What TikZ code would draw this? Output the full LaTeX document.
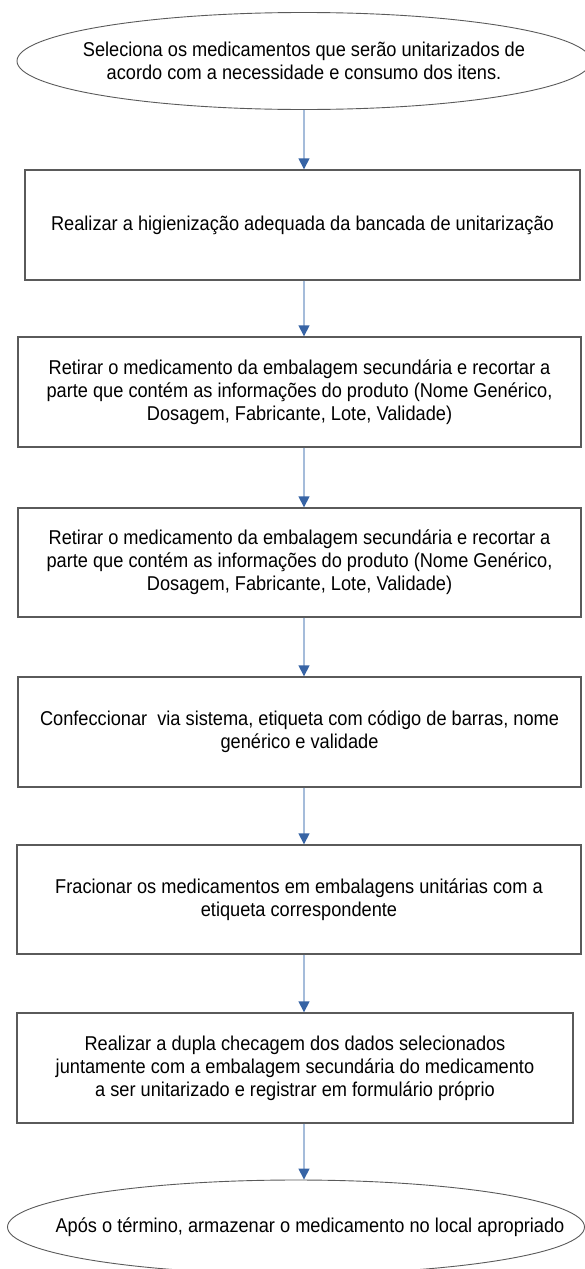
\documentclass[tikz,border=0pt]{standalone}
\usepackage{fontspec}
\setmainfont{Liberation Sans}[FakeStretch=0.91]
\usepackage{tikz}
\usetikzlibrary{arrows.meta,shapes.geometric}
\definecolor{boxline}{RGB}{90,90,90}
\definecolor{flowline}{RGB}{165,188,218}
\definecolor{flowhead}{RGB}{55,100,165}
\tikzset{
  stepbox/.style={rectangle,draw=boxline,line width=1.4pt,inner sep=0pt,
                  align=center,minimum height=110pt},
  term/.style={ellipse,draw=boxline,line width=0.9pt,inner sep=0pt},
  flow/.style={draw=flowline,line width=1.5pt,
               -{Triangle[length=11pt,width=11pt,color=flowhead]}},
}

\begin{document}
\begin{tikzpicture}[x=1pt,y=-1pt,font=\fontsize{20}{23}\selectfont]
  \useasboundingbox (0,0) rectangle (585,1269);
  \coordinate (axis) at (304,0);
  \node[term,minimum width=574pt,minimum height=97pt,
        label={[align=center]center:Seleciona os medicamentos que serão unitarizados de\\
                acordo com a necessidade e consumo dos itens.}] (sel) at (304,61) {};
  \node[stepbox,minimum width=555pt] (hig) at (302.5,225)
    {Realizar a higienização adequada da bancada de unitarização};
  \node[stepbox,minimum width=563pt] (ret1) at (299.5,392)
    {Retirar o medicamento da embalagem secundária e recortar a\\
     parte que contém as informações do produto (Nome Genérico,\\
     Dosagem, Fabricante, Lote, Validade)};
  \node[stepbox,minimum width=563pt,minimum height=109pt] (ret2) at (299.5,562.5)
    {Retirar o medicamento da embalagem secundária e recortar a\\
     parte que contém as informações do produto (Nome Genérico,\\
     Dosagem, Fabricante, Lote, Validade)};
  \node[stepbox,minimum width=563pt] (etq) at (299.5,732)
    {Confeccionar~ via sistema, etiqueta com código de barras, nome\\
     genérico e validade};
  \node[stepbox,minimum width=564pt,minimum height=109pt] (fra) at (299,899.5)
    {Fracionar os medicamentos em embalagens unitárias com a\\
     etiqueta correspondente};
  \node[stepbox,minimum width=556pt] (chk) at (295,1068)
    {Realizar a dupla checagem dos dados selecionados\\
     juntamente com a embalagem secundária do medicamento\\
     a ser unitarizado e registrar em formulário próprio};
  \node[term,minimum width=577pt,minimum height=94pt,
        label={[xshift=14pt]center:Após o término, armazenar o medicamento no local apropriado}]
    (arm) at (296,1227) {};

  \draw[flow] (sel.south -| axis) -- (hig.north -| axis);
  \draw[flow] (hig.south -| axis) -- (ret1.north -| axis);
  \draw[flow] (ret1.south -| axis) -- (ret2.north -| axis);
  \draw[flow] (ret2.south -| axis) -- (etq.north -| axis);
  \draw[flow] (etq.south -| axis) -- (fra.north -| axis);
  \draw[flow] (fra.south -| axis) -- (chk.north -| axis);
  \draw[flow] (chk.south -| axis) -- (arm.north -| axis);
\end{tikzpicture}
\end{document}
